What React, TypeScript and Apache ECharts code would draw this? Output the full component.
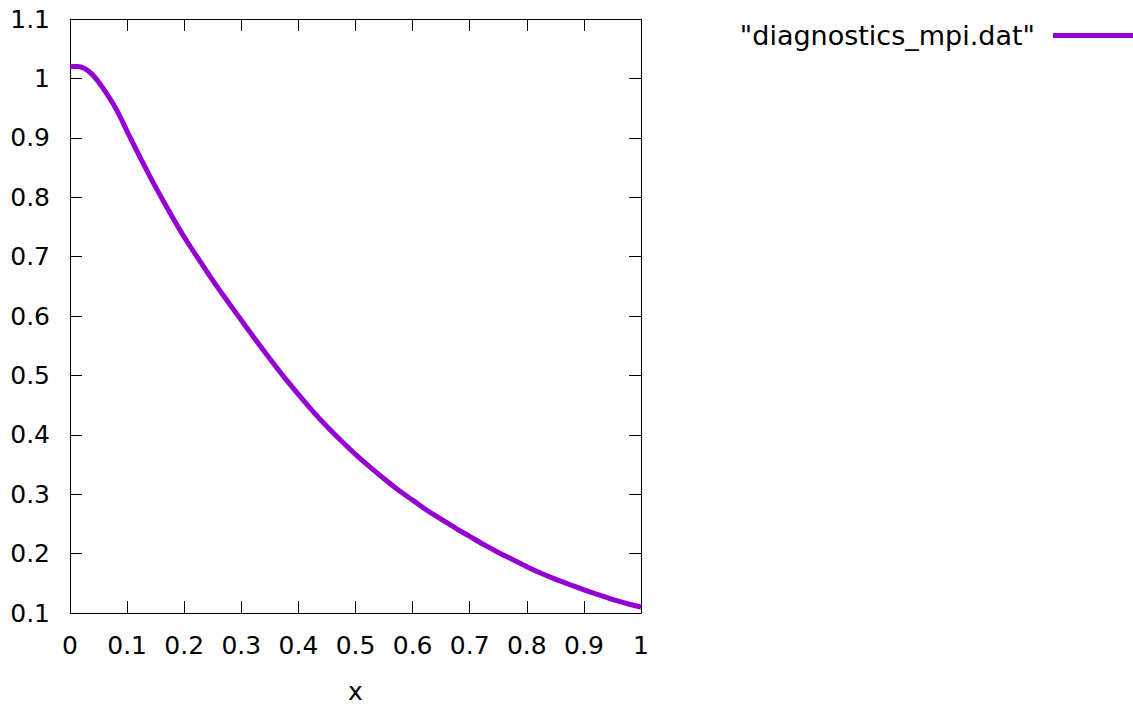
import React, { useEffect, useRef } from "react";
import * as echarts from "echarts";

const seriesName = '"diagnostics_mpi.dat"';
const xValues = [0, 0.0125, 0.025, 0.0375, 0.05, 0.0625, 0.075, 0.0875, 0.1, 0.125, 0.15, 0.175, 0.2, 0.225, 0.25, 0.275, 0.3, 0.325, 0.35, 0.375, 0.4, 0.425, 0.45, 0.475, 0.5, 0.525, 0.55, 0.575, 0.6, 0.625, 0.65, 0.675, 0.7, 0.725, 0.75, 0.775, 0.8, 0.825, 0.85, 0.875, 0.9, 0.925, 0.95, 0.975, 1.0];
const yValues = [1.02, 1.02, 1.017, 1.008, 0.994, 0.977, 0.958, 0.936, 0.911, 0.863, 0.817, 0.774, 0.733, 0.696, 0.66, 0.626, 0.593, 0.56, 0.528, 0.497, 0.468, 0.44, 0.414, 0.39, 0.367, 0.346, 0.326, 0.307, 0.29, 0.273, 0.258, 0.243, 0.229, 0.215, 0.202, 0.19, 0.178, 0.167, 0.157, 0.148, 0.139, 0.131, 0.123, 0.116, 0.11];
const xAxisName = "x";

const FONT = "DejaVu Sans";
const FS = 25;

export default function App() {
  const ref = useRef<HTMLDivElement>(null);
  useEffect(() => {
    if (!ref.current) return;
    const chart = echarts.init(ref.current, undefined, { renderer: "svg" });
    const axisLine = { show: true, onZero: false, lineStyle: { color: "#000", width: 1 } };
    const tick = () => ({ show: true, inside: true, length: 12, lineStyle: { color: "#000", width: 1 } });
    const label = { color: "#000", fontFamily: FONT, fontSize: FS };
    chart.setOption({
      animation: false,
      backgroundColor: "#fff",
      textStyle: { fontFamily: FONT },
      grid: { left: 70, top: 19, right: 492, bottom: 93, containLabel: false, outerBoundsMode: "none" },
      legend: {
        show: true,
        right: 0,
        top: 22,
        padding: 0,
        align: "right",
        itemWidth: 80,
        itemHeight: 24,
        itemGap: 0,
        textStyle: { color: "#000", fontFamily: FONT, fontSize: 27, padding: [0, 13, 0, 0] },
        data: [{ name: seriesName, icon: "path://M0,0 L80,0 L80,5 L0,5 Z", itemStyle: { color: "#9400d3" } }],
      },
      xAxis: [
        {
          type: "value",
          min: 0,
          max: 1,
          interval: 0.1,
          position: "bottom",
          name: xAxisName,
          nameLocation: "middle",
          nameGap: 67,
          nameTextStyle: { color: "#000", fontFamily: FONT, fontSize: FS, lineHeight: 22 },
          axisLine,
          axisTick: tick(),
          axisLabel: { ...label, margin: 20 },
          splitLine: { show: false },
        },
        {
          type: "value",
          min: 0,
          max: 1,
          interval: 0.1,
          position: "top",
          axisLine,
          axisTick: tick(),
          axisLabel: { show: false },
          splitLine: { show: false },
        },
      ],
      yAxis: [
        {
          type: "value",
          min: 0.1,
          max: 1.1,
          interval: 0.1,
          position: "left",
          axisLine,
          axisTick: tick(),
          axisLabel: { ...label, margin: 20 },
          splitLine: { show: false },
        },
        {
          type: "value",
          min: 0.1,
          max: 1.1,
          interval: 0.1,
          position: "right",
          axisLine,
          axisTick: tick(),
          axisLabel: { show: false },
          splitLine: { show: false },
        },
      ],
      series: [
        {
          name: seriesName,
          type: "line",
          xAxisIndex: 0,
          yAxisIndex: 0,
          data: xValues.map((x, i) => [x, yValues[i]]),
          smooth: 0.3,
          showSymbol: false,
          symbol: "none",
          lineStyle: { color: "#9400d3", width: 5 },
          itemStyle: { color: "#9400d3" },
        },
      ],
    });
    return () => chart.dispose();
  }, []);
  return (
    <div
      ref={ref}
      style={{ position: "fixed", left: 0, top: 0, width: 1133, height: 706, background: "#fff" }}
    />
  );
}
